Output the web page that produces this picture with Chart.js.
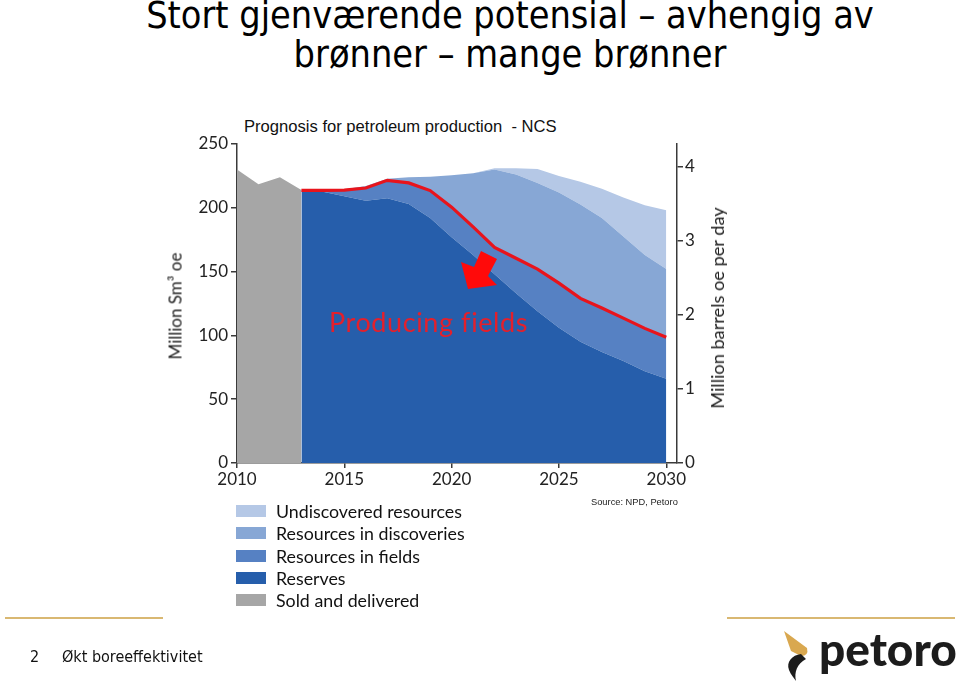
<!DOCTYPE html>
<html>
<head>
<meta charset="utf-8">
<script src="https://cdn.jsdelivr.net/npm/chart.js@4/dist/chart.umd.min.js"></script>
<style>
  body { margin: 0; width: 959px; height: 683px; background: #fff; position: relative; overflow: hidden; }
  .abs { position: absolute; white-space: nowrap; }
  #slideTitle { left: 0; width: 1020px; top: -4px; text-align: center; font-family: "DejaVu Sans Condensed", "DejaVu Sans", sans-serif; font-size: 37.5px; line-height: 39px; color: #000; }
  #chartBox { position: absolute; left: 160px; top: 110px; width: 580px; height: 390px; }
  #chartTitle { left: 244px; top: 117px; font-family: "Liberation Sans", Arial, sans-serif; font-size: 16.6px; color: #111; }
  .axisTitle { font-family: Lato, sans-serif; color: #222; transform: translate(-50%, -50%) rotate(-90deg); }
  #producing { left: 329px; top: 305px; font-family: Lato, sans-serif; font-size: 27px; letter-spacing: 0.6px; color: #e3202c; }
  #source { left: 591px; top: 497px; font-family: "Liberation Sans", Arial, sans-serif; font-size: 9.3px; color: #222; }
  .legRow { position: absolute; left: 236px; height: 22px; font-family: Lato, sans-serif; font-size: 17.8px; color: #111; }
  .legRow span.box { position: absolute; left: 0; top: 0; width: 30px; height: 12px; }
  .legRow span.txt { position: absolute; left: 40px; top: -5px; white-space: nowrap; }
  .goldLine { position: absolute; height: 2px; background: #d9b872; top: 617px; }
  #footer { left: 30px; top: 647px; font-family: "DejaVu Sans Condensed", "DejaVu Sans", sans-serif; font-size: 16px; color: #111; }
  #logoText { left: 819px; top: 621px; font-family: Lato, sans-serif; font-weight: 900; font-size: 46px; color: #1c1c1c; }
</style>
</head>
<body>
<div id="slideTitle" class="abs">Stort gjenværende potensial – avhengig av<br>brønner – mange brønner</div>

<div id="chartTitle" class="abs">Prognosis for petroleum production&nbsp; - NCS</div>
<div id="chartBox"><canvas id="chart" width="580" height="390"></canvas></div>
<div class="abs axisTitle" style="left:175px; top:306px; font-size:17px;">Million Sm³ oe</div>
<div class="abs axisTitle" style="left:717px; top:308px; font-size:18.2px;">Million barrels oe per day</div>
<div id="producing" class="abs">Producing fields</div>
<svg class="abs" style="left:0;top:0" width="959" height="683">
  <polygon points="468,289 461,262 474,267 481,251 497,259 488,276 497,285" fill="#ff0a0a"/>
</svg>
<div id="source" class="abs">Source: NPD, Petoro</div>
<div id="legend"></div>

<div class="goldLine" style="left:5px; width:158px;"></div>
<div class="goldLine" style="left:727px; width:228px;"></div>
<div id="footer" class="abs">2&nbsp;&nbsp;&nbsp;&nbsp; Økt boreeffektivitet</div>
<svg class="abs" style="left:0;top:0" width="959" height="683">
  <path d="M784,631 L807,648 Q809,656 801,656 L791,651 Z" fill="#d9a850"/>
  <path d="M801,654 C792,655 786,662 789,670 C791,675 794,678 796,681 C794,672 797,664 806,659 Z" fill="#1c1c1c"/>
</svg>
<div id="logoText" class="abs">petoro</div>

<script>
// values in million Sm3 oe (top of each band)
const years = [2010, 2011, 2012, 2013, 2014, 2015, 2016, 2017, 2018, 2019, 2020,
               2021, 2022, 2023, 2024, 2025, 2026, 2027, 2028, 2029, 2030];
const soldDelivered = [230, 218.5, 224, 214, null, null, null, null, null, null, null,
                       null, null, null, null, null, null, null, null, null, null];
const reservesTop = [null, null, null, 213.7, 212.5, 209, 205.5, 207.5, 203, 192, 177,
                     163, 148, 133, 119, 106, 95, 87, 80, 72, 66];
const fieldsTop = [null, null, null, 213.7, 213.7, 213.8, 215.5, 221.5, 219.5, 213.5, 200.5,
                   185, 169, 160.5, 152, 141, 129, 121.5, 113.5, 105.5, 98.5];
const discoveriesTop = [null, null, null, 213.7, 213.9, 214.5, 217, 222.8, 224, 224.3, 225.5,
                        227, 230, 226, 219.5, 212, 202.5, 192, 177.5, 163, 152];
const undiscoveredTop = [null, null, null, 213.7, 213.9, 214.5, 217, 222.8, 224, 224.3, 225.5,
                         227, 231, 231, 230.5, 225, 220.5, 215, 208, 202, 198];
const leftTicks = [0, 50, 100, 150, 200, 250];
const rightTicks = [0, 1, 2, 3, 4];
const yearTicks = [2010, 2015, 2020, 2025, 2030];
const sm3PerBarrelDay = 58.07; // 1 million bbl/d = 58.07 million Sm3/yr

const legendItems = ["Undiscovered resources", "Resources in discoveries", "Resources in fields", "Reserves", "Sold and delivered"];
const legendColors = ["#b5c8e6", "#87a7d5", "#5681c3", "#265eab", "#a6a6a6"];

function pts(arr) {
    return years.map((y, i) => ({x: y, y: arr[i]}));
}

// legend below the chart
const legendEl = document.getElementById("legend");
legendEl.innerHTML = legendItems.reduce((acc, name, i) => {
    return acc += `<div class="legRow" style="top:${505 + i * 22.3}px">
      <span class="box" style="background:${legendColors[i]}"></span>
      <span class="txt">${name}</span></div>`;
}, "");

const axisColor = "#3a3a3a";
const tickFont = {family: "Lato", size: 17};

new Chart(document.getElementById("chart"), {
    type: "line",
    data: {
        datasets: [
            {label: "Producing fields", data: pts(fieldsTop), borderColor: "#e8141c", borderWidth: 3.2,
             fill: false, pointRadius: 0, tension: 0},
            {label: "Sold and delivered", data: pts(soldDelivered), backgroundColor: legendColors[4],
             borderWidth: 0, fill: "origin", pointRadius: 0, tension: 0},
            {label: "Reserves", data: pts(reservesTop), backgroundColor: legendColors[3],
             borderWidth: 0, fill: "origin", pointRadius: 0, tension: 0},
            {label: "Resources in fields", data: pts(fieldsTop), backgroundColor: legendColors[2],
             borderWidth: 0, fill: "-1", pointRadius: 0, tension: 0},
            {label: "Resources in discoveries", data: pts(discoveriesTop), backgroundColor: legendColors[1],
             borderWidth: 0, fill: "-1", pointRadius: 0, tension: 0},
            {label: "Undiscovered resources", data: pts(undiscoveredTop), backgroundColor: legendColors[0],
             borderWidth: 0, fill: "-1", pointRadius: 0, tension: 0}
        ]
    },
    options: {
        responsive: false,
        devicePixelRatio: 1,
        animation: false,
        layout: {padding: {top: 34, left: 0, right: 0, bottom: 0}},
        plugins: {legend: {display: false}, tooltip: {enabled: false}, title: {display: false}},
        scales: {
            x: {
                type: "linear", min: 2010, max: 2030.5,
                afterBuildTicks: (s) => { s.ticks = yearTicks.map(v => ({value: v})); },
                afterFit: (s) => { s.height = 37; },
                ticks: {color: "#222", font: tickFont, padding: 1, maxRotation: 0, callback: (v) => String(v)},
                grid: {drawOnChartArea: false, drawTicks: true, tickLength: 5, color: axisColor, lineWidth: 1.5},
                border: {display: true, color: axisColor, width: 1.5}
            },
            y: {
                position: "left", min: 0, max: 250,
                afterBuildTicks: (s) => { s.ticks = leftTicks.map(v => ({value: v})); },
                afterFit: (s) => { s.width = 77; },
                ticks: {color: "#222", font: tickFont, padding: 3},
                grid: {drawOnChartArea: false, drawTicks: true, tickLength: 6, color: axisColor, lineWidth: 1.5},
                border: {display: true, color: axisColor, width: 1.5}
            },
            y1: {
                position: "right", min: 0, max: 250 / sm3PerBarrelDay,
                afterBuildTicks: (s) => { s.ticks = rightTicks.map(v => ({value: v})); },
                afterFit: (s) => { s.width = 63; },
                ticks: {color: "#222", font: tickFont, padding: 2},
                grid: {drawOnChartArea: false, drawTicks: true, tickLength: 6, color: axisColor, lineWidth: 1.5},
                border: {display: true, color: axisColor, width: 1.5}
            }
        }
    }
});
</script>
</body>
</html>
